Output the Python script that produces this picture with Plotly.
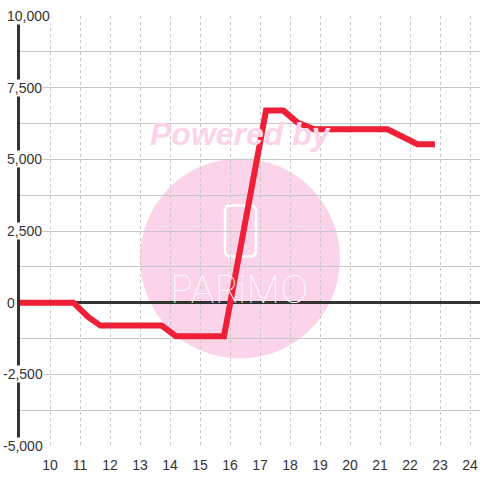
import plotly.graph_objects as go

# hour of day vs. value
hours = [9.0, 10.78, 11.27, 11.68, 13.72, 14.2, 15.8, 17.2, 17.78, 18.25, 18.8, 21.25, 22.25, 22.83]
values = [0, 0, -500, -800, -800, -1170, -1170, 6700, 6700, 6280, 6050, 6050, 5530, 5530]

x_ticks = list(range(10, 25))
y_grid = list(range(-5000, 10001, 1250))
y_labels = [10000, 7500, 5000, 2500, 0, -2500, -5000]

PINK = "#fbd4ea"

fig = go.Figure()

fig.add_trace(go.Scatter(
    x=hours, y=values, mode="lines",
    line=dict(color="#ee1f37", width=6),
    hoverinfo="skip", showlegend=False,
))

# watermark: circle + phone icon + text
fig.add_shape(type="circle", xref="paper", yref="paper",
              x0=0.2609, x1=0.6957, y0=0.2035, y1=0.6686,
              fillcolor=PINK, line_width=0, layer="below")

x0, x1, y0, y1, rx, ry = 0.4457, 0.5130, 0.4407, 0.5593, 0.012, 0.013
phone = (f"M {x0+rx},{y1} L {x1-rx},{y1} Q {x1},{y1} {x1},{y1-ry} "
         f"L {x1},{y0+ry} Q {x1},{y0} {x1-rx},{y0} L {x0+rx},{y0} "
         f"Q {x0},{y0} {x0},{y0+ry} L {x0},{y1-ry} Q {x0},{y1} {x0+rx},{y1} Z")
fig.add_shape(type="path", path=phone, xref="paper", yref="paper",
              line=dict(color="white", width=2.5), layer="below")

fig.add_annotation(x=0.478, y=0.366, xref="paper", yref="paper",
                   text="PARiMO", showarrow=False, yanchor="middle",
                   font=dict(family="Inter", size=38, color="white", weight=100))
fig.add_annotation(x=0.48, y=0.725, xref="paper", yref="paper",
                   text="<b><i>Powered by</i></b>", showarrow=False, yanchor="middle",
                   font=dict(family="Liberation Sans, Arial", size=32, color=PINK))

# y tick labels sit over the axis line with a white box
for v in y_labels:
    label = f"{v:,}"
    fig.add_annotation(x=0, y=v, xref="paper", yref="y",
                       text=label, showarrow=False,
                       xanchor="left", yanchor="middle",
                       xshift=-14 if v >= 0 else -18,
                       bgcolor="white", borderpad=0,
                       font=dict(family="Liberation Sans, Arial", size=14, color="#333"))

fig.update_xaxes(
    range=[9, 24.333], tickvals=x_ticks, automargin=False,
    showgrid=True, gridcolor="#c8c8c8", griddash="3px,3px", gridwidth=1,
    zeroline=False, showline=False,
    ticks="outside", ticklen=6, tickcolor="rgba(0,0,0,0)",
    tickfont=dict(family="Liberation Sans, Arial", size=14, color="#333"),
)
fig.update_yaxes(
    range=[-5000, 10000], tickvals=y_grid, showticklabels=False, automargin=False,
    showgrid=True, gridcolor="#c8c8c8", gridwidth=1,
    zeroline=True, zerolinecolor="#333", zerolinewidth=3,
    showline=True, linecolor="#333", linewidth=3,
)

fig.update_layout(
    width=480, height=480,
    margin=dict(l=20, r=0, t=16, b=34),
    paper_bgcolor="white", plot_bgcolor="white",
    showlegend=False,
)

# drop the default 8px body margin so the figure fills the window
fig.write_html("out.html", config={"displayModeBar": False},
               post_script="document.body.style.margin='0';")
